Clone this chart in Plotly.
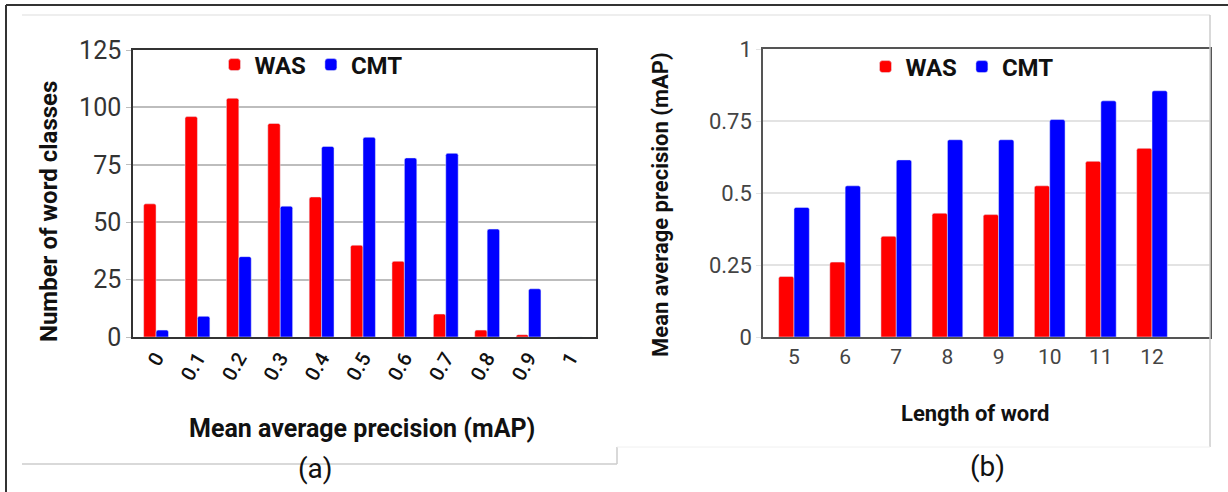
import plotly.graph_objects as go

# ---- data: panel (a) ----
map_bins = ["0", "0.1", "0.2", "0.3", "0.4", "0.5", "0.6", "0.7", "0.8", "0.9", "1"]
was_counts = [58, 96, 104, 93, 61, 40, 33, 10, 3, 1, 0]
cmt_counts = [3, 9, 35, 57, 83, 87, 78, 80, 47, 21, 0]

# ---- data: panel (b) ----
word_lengths = [5, 6, 7, 8, 9, 10, 11, 12]
was_map = [0.21, 0.26, 0.35, 0.43, 0.425, 0.525, 0.61, 0.655]
cmt_map = [0.45, 0.525, 0.615, 0.685, 0.685, 0.755, 0.82, 0.855]

left_ticks = [0, 25, 50, 75, 100, 125]
right_ticks = [0, 0.25, 0.5, 0.75, 1]
right_tick_text = ["0", "0.25", "0.5", "0.75", "1"]

RED = "#ff0000"
BLUE = "#0000ff"
FONT = "Roboto"
W, H = 1228, 492

fig = go.Figure()

fig.add_trace(go.Bar(x=map_bins, y=was_counts, name="WAS", marker_color=RED,
                     xaxis="x", yaxis="y", legend="legend"))
fig.add_trace(go.Bar(x=map_bins, y=cmt_counts, name="CMT", marker_color=BLUE,
                     xaxis="x", yaxis="y", legend="legend"))
fig.add_trace(go.Bar(x=word_lengths, y=was_map, name="WAS", marker_color=RED,
                     xaxis="x2", yaxis="y2", legend="legend2"))
fig.add_trace(go.Bar(x=word_lengths, y=cmt_map, name="CMT", marker_color=BLUE,
                     xaxis="x2", yaxis="y2", legend="legend2"))

def px_x(p):
    return p / W

def px_y(p):
    return 1 - p / H

legend_font = dict(family=FONT, size=24, color="#111", weight=700)

fig.update_layout(
    width=W, height=H,
    margin=dict(l=0, r=0, t=0, b=0, autoexpand=False),
    paper_bgcolor="white", plot_bgcolor="white",
    barmode="group", bargap=0.4, bargroupgap=0.0,
    barcornerradius=2,
    font=dict(family=FONT, color="#333"),
    xaxis=dict(domain=[px_x(133), px_x(596)], anchor="y", type="category",
               range=[-0.557, 10.63], tickangle=-60, automargin=False,
               tickfont=dict(family=FONT, size=20, color="#111", weight=500),
               showgrid=False, showline=True, linecolor="#333", linewidth=1.5,
               mirror=True, ticks="", fixedrange=True),
    yaxis=dict(domain=[px_y(337), px_y(50)], anchor="x", range=[0, 125],
               automargin=False,
               tickvals=left_ticks, tickfont=dict(family=FONT, size=25, color="#333"),
               showgrid=True, gridcolor="#bdbdbd", gridwidth=1.5,
               showline=True, linecolor="#333", linewidth=1.5, mirror=True,
               ticks="outside", ticklen=5, tickcolor="#bdbdbd",
               zeroline=False, fixedrange=True),
    xaxis2=dict(domain=[px_x(763), px_x(1210)], anchor="y2", automargin=False,
                range=[4.394, 13.134], tickvals=word_lengths,
                tickfont=dict(family=FONT, size=21, color="#444"),
                showgrid=False, showline=True, linecolor="#555", linewidth=1.5,
                mirror=True, ticks="", fixedrange=True),
    yaxis2=dict(domain=[px_y(337), px_y(49)], anchor="x2", range=[0, 1],
                automargin=False,
                tickvals=right_ticks, ticktext=right_tick_text,
                tickfont=dict(family=FONT, size=22, color="#444"),
                showgrid=True, gridcolor="#e3e3e3", gridwidth=1.5,
                showline=True, linecolor="#555", linewidth=1.5, mirror=True,
                ticks="outside", ticklen=5, tickcolor="#e3e3e3",
                zeroline=False, fixedrange=True),
    legend=dict(orientation="h", x=px_x(311), y=px_y(65), xanchor="center",
                yanchor="middle", font=legend_font, bgcolor="rgba(0,0,0,0)",
                itemclick=False, itemdoubleclick=False, traceorder="normal"),
    legend2=dict(orientation="h", x=px_x(962), y=px_y(67), xanchor="center",
                 yanchor="middle", font=legend_font, bgcolor="rgba(0,0,0,0)",
                 itemclick=False, itemdoubleclick=False, traceorder="normal"),
)

annotations = [
    dict(text="Number of word classes", x=px_x(49), y=px_y(212), textangle=-90,
         font=dict(family=FONT, size=24, color="#111", weight=700)),
    dict(text="Mean average precision (mAP)", x=px_x(362), y=px_y(428),
         font=dict(family=FONT, size=25, color="#111", weight=700)),
    dict(text="Mean average precision (mAP)", x=px_x(660), y=px_y(205), textangle=-90,
         font=dict(family=FONT, size=22, color="#111", weight=700)),
    dict(text="Length of word", x=px_x(975), y=px_y(413),
         font=dict(family=FONT, size=22, color="#111", weight=700)),
    dict(text="(a)", x=px_x(315), y=px_y(468),
         font=dict(family=FONT, size=28, color="#111")),
    dict(text="(b)", x=px_x(987), y=px_y(466),
         font=dict(family=FONT, size=28, color="#111")),
]
for a in annotations:
    a.update(xref="paper", yref="paper", showarrow=False,
             xanchor="center", yanchor="middle")
fig.update_layout(annotations=annotations)

def line(x0, y0, x1, y1, color, width):
    return dict(type="line", xref="paper", yref="paper",
                x0=px_x(x0), y0=px_y(y0), x1=px_x(x1), y1=px_y(y1),
                line=dict(color=color, width=width))

shapes = [
    line(6, 5, 1228, 5, "#333", 2),
    line(6, 5, 6, 492, "#333", 2),
    line(22, 15, 1210, 15, "#dddddd", 1),
    line(1210, 15, 1210, 447, "#cccccc", 1.5),
    line(22, 464, 617, 464, "#cccccc", 1.5),
    line(617, 447, 617, 464, "#cccccc", 1.5),
    line(617, 447, 1210, 447, "#f0f0f0", 1),
]
fig.update_layout(shapes=shapes)

fig.write_html("out.html",
               config={"displayModeBar": False},
               post_script="document.body.style.margin='0';"
                           "document.body.style.overflow='hidden';")
